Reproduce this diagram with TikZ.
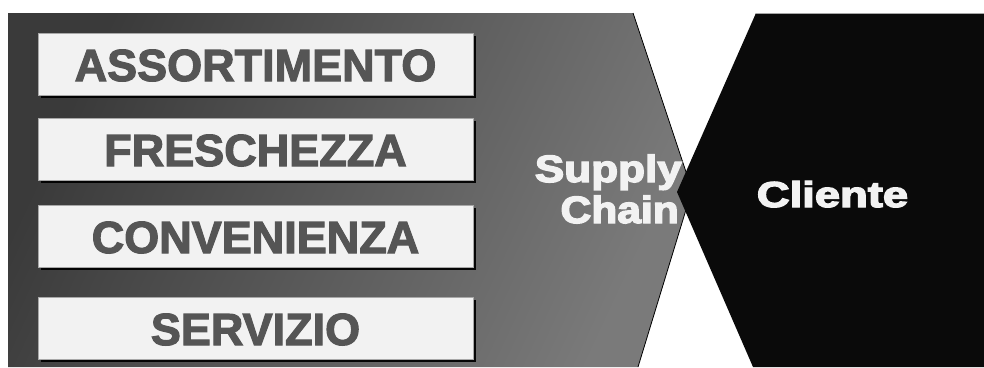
\documentclass[tikz,border=0pt]{standalone}
\usepackage{fontspec}
\usepackage{graphicx}
\setmainfont{Liberation Sans}
% heavier faces for the block lettering
\newfontfamily\heavyfont[FakeBold=2.5]{Liberation Sans Bold}
\newfontfamily\blackfont[FakeBold=3.5]{Liberation Sans Bold}
\usetikzlibrary{shadows}

\definecolor{labelgray}{HTML}{555555}
\definecolor{boxfill}{HTML}{F2F2F2}
\definecolor{boxedge}{HTML}{A8A8A8}
\definecolor{darkgray}{HTML}{3A3A3A}
\definecolor{lightgray}{HTML}{7A7A7A}
\definecolor{nearblack}{HTML}{0A0A0A}
\definecolor{whitetext}{HTML}{F2F2F2}

\tikzset{
  itembox/.style={
    draw=boxedge, line width=1pt, fill=boxfill,
    minimum width=435pt, minimum height=62pt,
    inner sep=0pt, text height=34pt, text depth=0pt,
    text=labelgray, font=\fontsize{45}{54}\selectfont\heavyfont,
    drop shadow={shadow xshift=2.5pt, shadow yshift=-2.5pt,
                 fill=black, opacity=0.95}
  },
  whitelabel/.style={
    inner sep=0pt, text=whitetext,
    font=\fontsize{38}{41}\selectfont\blackfont
  },
}

\begin{document}
\begin{tikzpicture}[x=1pt,y=-1pt]
  \useasboundingbox (0,0) rectangle (984,367);

  % supply chain block, shaded from dark (upper left) to lighter (lower right)
  \shade[top color=darkgray, bottom color=lightgray, shading angle=65]
    (8,13) -- (633,13) -- (692,190) -- (638,367) -- (8,367) -- cycle;
  \draw[black, line width=0.8pt] (633,13) -- (692,190) -- (638,367);

  % customer block
  \fill[nearblack] (756,13) -- (984,13) -- (984,367) -- (753,367) -- (677,192) -- cycle;
  \draw[gray!70, line width=1.2pt] (756,13.5) -- (984,13.5);

  % the four offer dimensions
  \node[itembox] (b1) at (255.5,64)  {ASSORTIMENTO};
  \node[itembox] (b2) at (255.5,149) {FRESCHEZZA};
  \node[itembox] (b3) at (255.5,236) {CONVENIENZA};
  \node[itembox] (b4) at (255.5,328) {SERVIZIO};

  % block labels
  \node[whitelabel, anchor=base east] (supply) at (682,182) {\scalebox{1.16}[1]{Supply}};
  \node[whitelabel, anchor=base east] (chain)  at (679,223) {\scalebox{1.12}[1]{Chain}};
  \node[whitelabel, anchor=base, font=\fontsize{36}{40}\selectfont\blackfont]
    (cliente) at (832.5,207) {\scalebox{1.26}[1]{Cliente}};
\end{tikzpicture}
\end{document}
